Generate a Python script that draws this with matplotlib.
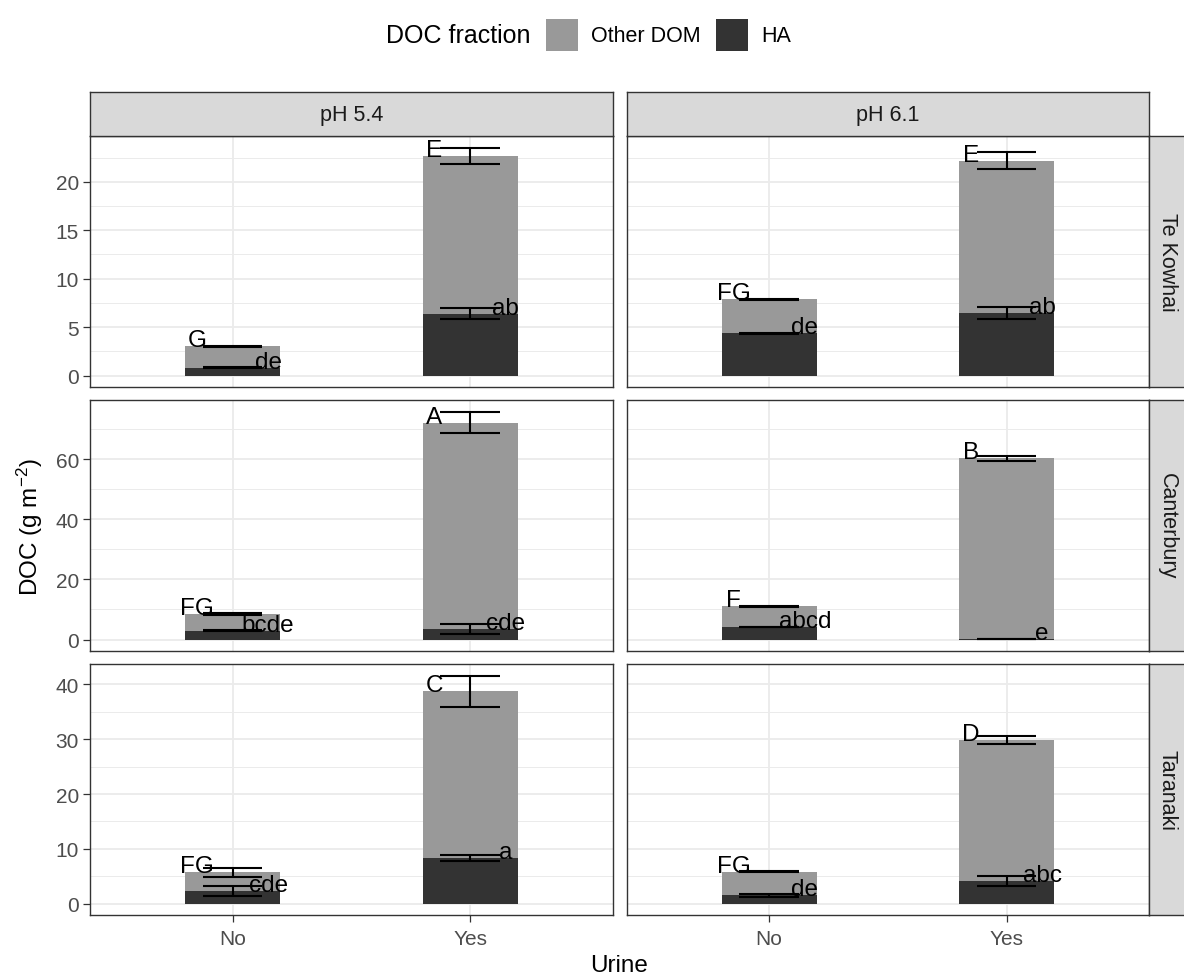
import matplotlib
matplotlib.use("Agg")
import numpy as np
import matplotlib.pyplot as plt
from matplotlib.patches import Rectangle
from matplotlib.ticker import MultipleLocator

plt.rcParams['font.family'] = ['Liberation Sans', 'DejaVu Sans']
plt.rcParams['mathtext.default'] = 'regular'

sites = ["Te Kowhai", "Canterbury", "Taranaki"]
ph_levels = ["pH 5.4", "pH 6.1"]
urine = ["No", "Yes"]

# per site: [pH 5.4 No, pH 5.4 Yes, pH 6.1 No, pH 6.1 Yes]  (g m-2)
ha_mean = [[0.8, 6.4, 4.35, 6.5],
           [2.9, 3.5, 4.1, 0.05],
           [2.25, 8.3, 1.5, 4.05]]
ha_se = [[0.05, 0.58, 0.05, 0.62],
         [0.15, 1.8, 0.1, 0.03],
         [0.88, 0.6, 0.3, 0.9]]
other_mean = [[2.2, 16.3, 3.55, 15.7],
              [5.6, 68.7, 7.0, 60.25],
              [3.45, 30.45, 4.35, 25.85]]
total_se = [[0.05, 0.83, 0.05, 0.89],
            [0.2, 3.6, 0.15, 0.85],
            [0.82, 2.85, 0.1, 0.75]]
total_letters = [["G", "E", "FG", "E"],
                 ["FG", "A", "F", "B"],
                 ["FG", "C", "FG", "D"]]
ha_letters = [["de", "ab", "de", "ab"],
              ["bcde", "cde", "abcd", "e"],
              ["cde", "a", "de", "abc"]]
y_steps = [5, 20, 10]

W, H = 1184, 979
fig = plt.figure(figsize=(W / 100, H / 100), dpi=100)


def px_rect(x0, y0, x1, y1):
    return [x0 / W, 1 - y1 / H, (x1 - x0) / W, (y1 - y0) / H]


col_x = [(90, 612.7), (626.7, 1149)]
row_y = [(137.3, 387.9), (401.3, 651.9), (665.3, 916)]
strip_h = 44.6

c_other = "#999999"
c_ha = "#333333"
c_border = "#333333"
c_grid = "#EBEBEB"
c_strip = "#D9D9D9"

xpos = np.arange(1, len(urine) + 1)
bar_w = 0.4
eb_half = 0.125

for r, site in enumerate(sites):
    ha = np.array(ha_mean[r])
    oth = np.array(other_mean[r])
    tot = ha + oth
    tse = np.array(total_se[r])
    hse = np.array(ha_se[r])
    hi = max((tot + tse).max(), (ha + hse).max())
    lo = min(0, (ha - hse).min())
    span = hi - lo
    ylim = (lo - 0.05 * span, hi + 0.05 * span)

    for c, ph in enumerate(ph_levels):
        ax = fig.add_axes(px_rect(col_x[c][0], row_y[r][0], col_x[c][1], row_y[r][1]))
        sl = slice(2 * c, 2 * c + 2)
        h, o, t = ha[sl], oth[sl], tot[sl]
        ts, hs = tse[sl], hse[sl]

        ax.bar(xpos, h, width=bar_w, color=c_ha, zorder=2)
        ax.bar(xpos, o, width=bar_w, bottom=h, color=c_other, zorder=2)

        for mean, se in ((t, ts), (h, hs)):
            ax.vlines(xpos, mean - se, mean + se, color="black", lw=1.5, zorder=3)
            ax.hlines(mean - se, xpos - eb_half, xpos + eb_half, color="black", lw=1.5, zorder=3)
            ax.hlines(mean + se, xpos - eb_half, xpos + eb_half, color="black", lw=1.5, zorder=3)

        for i, x in enumerate(xpos):
            ax.text(x - 0.15, t[i], total_letters[r][2 * c + i], ha="center",
                    va="baseline", fontsize=17.5, color="black", zorder=4)
            ax.text(x + 0.15, h[i], ha_letters[r][2 * c + i], ha="center",
                    va="baseline", fontsize=17.5, color="black", zorder=4)

        ax.set_xlim(0.4, 2.6)
        ax.set_ylim(*ylim)
        ax.set_xticks(xpos)
        ax.yaxis.set_major_locator(MultipleLocator(y_steps[r]))
        ax.yaxis.set_minor_locator(MultipleLocator(y_steps[r] / 2))
        ax.set_axisbelow(True)
        ax.grid(True, which="major", color=c_grid, lw=1.3)
        ax.grid(True, which="minor", axis="y", color=c_grid, lw=0.7)
        ax.tick_params(which="minor", length=0)
        ax.tick_params(which="major", length=5, width=0.9, color=c_border,
                       labelcolor="#4D4D4D", labelsize=15, pad=3)
        ax.tick_params(axis="x", pad=5)
        for sp in ax.spines.values():
            sp.set_color(c_border)
            sp.set_linewidth(1.0)

        if c != 0:
            ax.tick_params(axis="y", labelleft=False, length=0)
        if r == len(sites) - 1:
            ax.set_xticklabels(urine)
        else:
            ax.tick_params(axis="x", labelbottom=False, length=0)

        # column strips on top
        if r == 0:
            sax = fig.add_axes(px_rect(col_x[c][0], row_y[0][0] - strip_h, col_x[c][1], row_y[0][0]))
            sax.set_facecolor(c_strip)
            sax.set_xticks([])
            sax.set_yticks([])
            for sp in sax.spines.values():
                sp.set_color(c_border)
                sp.set_linewidth(1.0)
            sax.text(0.5, 0.5, ph, transform=sax.transAxes, ha="center", va="center",
                     fontsize=15.5, color="#1A1A1A")

    # row strips on the right
    rax = fig.add_axes(px_rect(col_x[1][1], row_y[r][0], col_x[1][1] + strip_h, row_y[r][1]))
    rax.set_facecolor(c_strip)
    rax.set_xticks([])
    rax.set_yticks([])
    for sp in rax.spines.values():
        sp.set_color(c_border)
        sp.set_linewidth(1.0)
    fig.text(1167 / W, 1 - (row_y[r][0] + row_y[r][1]) / 2 / H, site, rotation=-90,
             ha="center", va="center", fontsize=15.5, color="#1A1A1A")

# axis titles
fig.text(619.5 / W, 1 - 966 / H, "Urine", ha="center", va="center", fontsize=17.5)
fig.text(30 / W, 1 - 526.6 / H, "DOC (g m$^{-2}$)", rotation=90, ha="center",
         va="center", fontsize=17.5)

# legend across the top
leg_y = 36
key = 32
fig.text(530 / W, 1 - leg_y / H, "DOC fraction", ha="right", va="center", fontsize=18)
for k0, label, col in ((546, "Other DOM", c_other), (716, "HA", c_ha)):
    fig.add_artist(Rectangle((k0 / W, 1 - (leg_y + key / 2) / H), key / W, key / H,
                             transform=fig.transFigure, facecolor=col, edgecolor="none"))
    fig.text((k0 + key + 13) / W, 1 - leg_y / H, label, ha="left", va="center", fontsize=15.5)

fig.savefig("out.png", dpi=100)
